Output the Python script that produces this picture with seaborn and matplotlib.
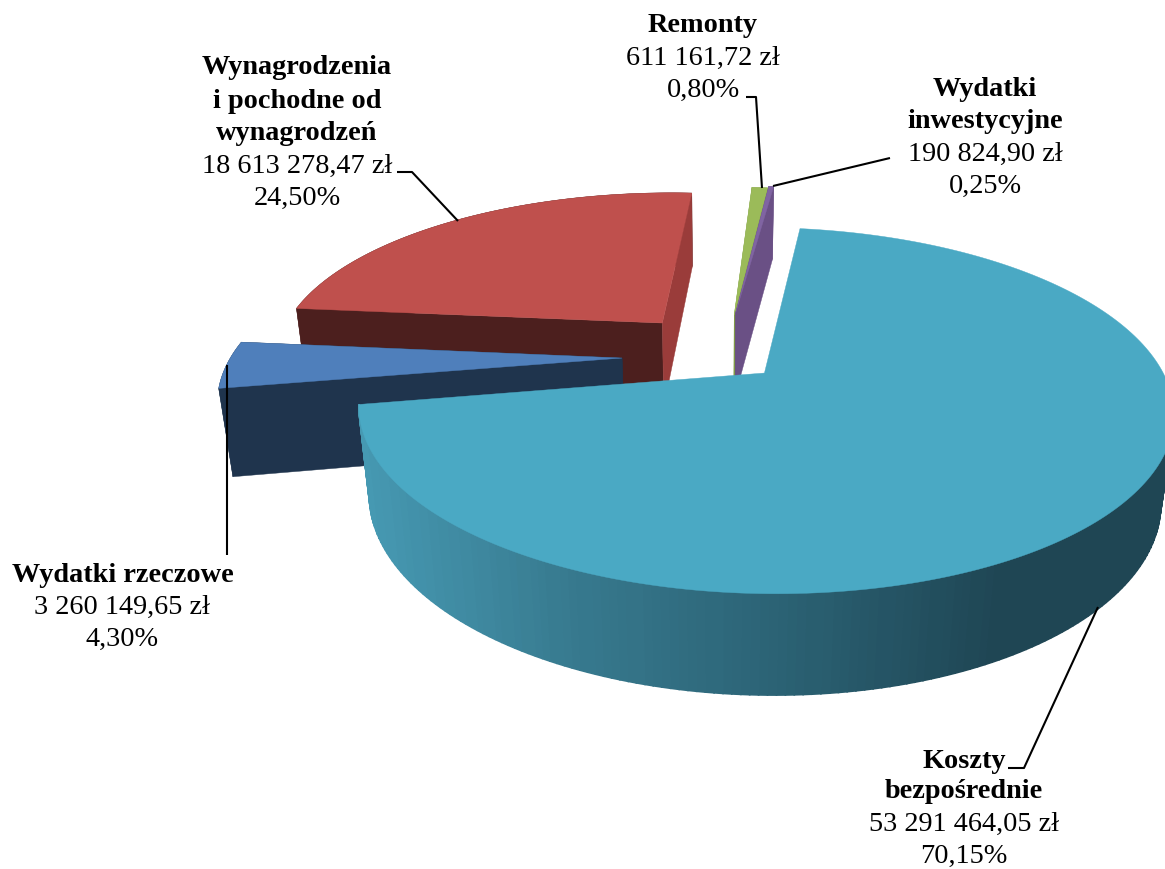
import numpy as np
import matplotlib
matplotlib.use("Agg")
import matplotlib.pyplot as plt
import seaborn as sns

# kwoty w kolejnosci rysowania wycinkow (zgodnie z ruchem wskazowek)
categories = ["Koszty bezpośrednie", "Wydatki rzeczowe", "Wynagrodzenia i pochodne od wynagrodzeń",
              "Remonty", "Wydatki inwestycyjne"]
values = [53291464.05, 3260149.65, 18613278.47, 611161.72, 190824.90]
amount_labels = ["53 291 464,05 zł", "3 260 149,65 zł", "18 613 278,47 zł", "611 161,72 zł", "190 824,90 zł"]
percent_labels = ["70,15%", "4,30%", "24,50%", "0,80%", "0,25%"]

top_colors = ["#4aa9c4", "#4f7fbb", "#bf504d", "#9bbb59", "#8064a2"]
wall_colors = ["#1f4654", "#1f344d", "#4c1f1e", "#7f9a48", "#6a5085"]
end_wall_colors = ["#1f4654", "#1f344d", "#9a3c3a", "#7f9a48", "#6a5085"]

# wysuniecie wycinkow w plaszczyznie kola
explode_x = [0.114, -0.2475, -0.151, 0.041, 0.045]
explode_y = [-0.135, -0.048, 0.168, 0.22, 0.235]

start_angle = 7.5
cx, cy, a, b = 719.0, 350.0, 388.0, 166.0
k, m, depth = 0.2, 0.028, 88.0

sns.set_theme(style="white")
plt.rcParams["font.family"] = ["Liberation Serif", "DejaVu Serif"]


def project(x, y, z=0.0):
    w = 1 + k * y + m * z
    return cx + a * x / w, cy + (-b * y + depth * z) / w


def rim(i, angles):
    t = np.radians(angles)
    return explode_x[i] + np.sin(t), explode_y[i] + np.cos(t)


shares = np.array(values) / np.sum(values) * 360
ends = start_angle + np.cumsum(shares)
starts = ends - shares

fig = plt.figure(figsize=(11.65, 8.69), dpi=100)
ax = fig.add_axes([0, 0, 1, 1])
ax.set_xlim(0, 1165)
ax.set_ylim(869, 0)
ax.axis("off")

teal_wall = sns.blend_palette(["#4699b2", "#37798e", "#2b6274", "#1f4654"], 64)

for i in [2, 3, 4, 1, 0]:
    ang = np.linspace(starts[i], ends[i], 240)
    x, y = rim(i, ang)
    ox, oy = explode_x[i], explode_y[i]

    # sciana zewnetrzna
    tu, tv = project(x, y)
    bu, bv = project(x, y, 1)
    if i == 0:
        for j in range(len(ang) - 1):
            if ang[j] < 96:
                continue
            pos = np.clip((tu[j] - 358) / 640, 0, 1)
            col = teal_wall[int(pos * 63)]
            ax.fill([tu[j], tu[j + 1], bu[j + 1], bu[j]], [tv[j], tv[j + 1], bv[j + 1], bv[j]],
                    color=col, lw=1.2, zorder=2)
    else:
        ax.fill(np.r_[tu, bu[::-1]], np.r_[tv, bv[::-1]], color=wall_colors[i], lw=0.3, zorder=2)

        # sciany boczne od srodka do brzegu
        for edge, col in [(0, wall_colors[i]), (-1, end_wall_colors[i])]:
            px, py = zip(project(ox, oy), project(x[edge], y[edge]),
                         project(x[edge], y[edge], 1), project(ox, oy, 1))
            ax.fill(px, py, color=col, lw=0.3, zorder=2)

    # wierzch wycinka
    au, av = project(ox, oy)
    ax.fill(np.r_[au, tu], np.r_[av, tv], color=top_colors[i], lw=0.3, zorder=2)

# linie odniesienia
leaders = [
    ([746, 756, 762], [97, 97, 188]),
    ([890, 773], [158, 186]),
    ([397, 412, 458], [172, 172, 221]),
    ([227, 227], [365, 555]),
    ([1008, 1024, 1098], [768, 768, 607]),
]
for lx, ly in leaders:
    ax.plot(lx, ly, color="black", lw=1.5, solid_capstyle="butt", zorder=3)

font_size = 20.3
blocks = [
    (964, [761, 792], ["Koszty", "bezpośrednie"], 0),
    (122.5, [575], ["Wydatki rzeczowe"], 1),
    (297, [68, 101, 134], ["Wynagrodzenia", "i pochodne od", "wynagrodzeń"], 2),
    (703, [26], ["Remonty"], 3),
    (985, [90, 122], ["Wydatki", "inwestycyjne"], 4),
]
for xc, ys, lines, i in blocks:
    for yy, line in zip(ys, lines):
        ax.text(xc, yy, line, ha="center", va="center", fontsize=font_size, fontweight="bold", color="black")
    pitch = 32
    ax.text(xc, ys[-1] + pitch, amount_labels[i], ha="center", va="center", fontsize=font_size, color="black")
    ax.text(xc, ys[-1] + 2 * pitch, percent_labels[i], ha="center", va="center", fontsize=font_size, color="black")

fig.savefig("out.png", dpi=100)
